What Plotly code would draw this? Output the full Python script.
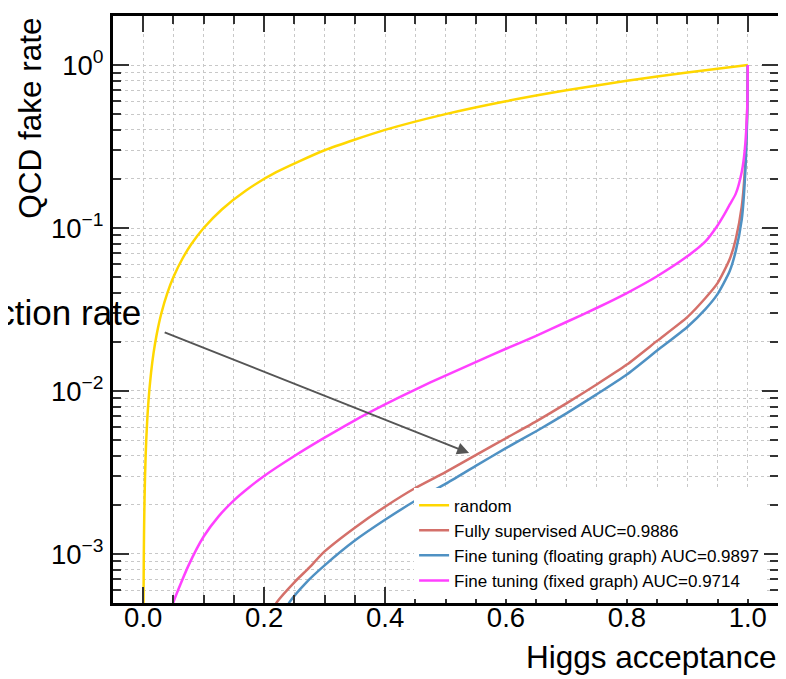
import plotly.graph_objects as go
import math

# ---------------- data ----------------
rand_x = [0.0004, 0.0005, 0.0007, 0.001, 0.0013, 0.0017, 0.0022, 0.003, 0.004, 0.005,
          0.0065, 0.008, 0.01, 0.013, 0.017, 0.022, 0.03, 0.04, 0.05, 0.065, 0.08, 0.1,
          0.13, 0.17, 0.22, 0.3, 0.4, 0.5, 0.6, 0.7, 0.8, 0.9, 1.0]
rand_y = [0.0004, 0.0005, 0.0007, 0.001, 0.0013, 0.0017, 0.0022, 0.003, 0.004, 0.005,
          0.0065, 0.008, 0.01, 0.013, 0.017, 0.022, 0.03, 0.04, 0.05, 0.065, 0.08, 0.1,
          0.13, 0.17, 0.22, 0.3, 0.4, 0.5, 0.6, 0.7, 0.8, 0.9, 1.0]

full_x = [0.21, 0.221, 0.25, 0.275, 0.3, 0.35, 0.4, 0.45, 0.5, 0.55, 0.6, 0.65, 0.7,
          0.75, 0.8, 0.85, 0.9, 0.93, 0.95, 0.97, 0.98, 0.99, 0.995, 0.999, 1.0]
full_y = [0.000428, 0.000506, 0.00067, 0.000827, 0.001036, 0.00145, 0.00195, 0.00254,
          0.00318, 0.00404, 0.00513, 0.00651, 0.00839, 0.01096, 0.01452, 0.0203, 0.0284,
          0.0372, 0.0459, 0.0643, 0.0851, 0.135, 0.221, 0.513, 1.0]

float_x = [0.232, 0.242, 0.27, 0.3, 0.35, 0.4, 0.45, 0.5, 0.55, 0.6, 0.65, 0.7, 0.75,
           0.8, 0.85, 0.9, 0.93, 0.95, 0.97, 0.98, 0.99, 0.995, 0.999, 1.0]
float_y = [0.000428, 0.000506, 0.00067, 0.000851, 0.001208, 0.00162, 0.00212, 0.00269,
           0.00347, 0.00446, 0.00566, 0.00729, 0.00953, 0.01262, 0.0177, 0.0247, 0.0318,
           0.0393, 0.0543, 0.0719, 0.1127, 0.192, 0.479, 1.0]

fixed_x = [0.045, 0.05, 0.075, 0.1, 0.125, 0.15, 0.175, 0.2, 0.25, 0.3, 0.35, 0.4, 0.45,
           0.5, 0.55, 0.6, 0.65, 0.7, 0.75, 0.8, 0.85, 0.9, 0.93, 0.95, 0.96, 0.97, 0.98,
           0.99, 0.995, 0.999, 1.0]
fixed_y = [0.00042, 0.000506, 0.000851, 0.001279, 0.001706, 0.002133, 0.00256, 0.00301,
           0.00399, 0.00517, 0.00661, 0.00827, 0.01021, 0.01244, 0.01503, 0.01816, 0.0218,
           0.0265, 0.0323, 0.0399, 0.0506, 0.067, 0.0827, 0.1036, 0.119, 0.139, 0.162,
           0.221, 0.301, 0.535, 1.0]

names = ["random",
         "Fully supervised AUC=0.9886",
         "Fine tuning (floating graph) AUC=0.9897",
         "Fine tuning (fixed graph) AUC=0.9714"]
colors = ["#ffd700", "#d4706a", "#4f91c3", "#ff40ff"]

x_ticks = [0.0, 0.2, 0.4, 0.6, 0.8, 1.0]
x_ticktext = ["0.0", "0.2", "0.4", "0.6", "0.8", "1.0"]
y_ticks = [1e-3, 1e-2, 1e-1, 1.0]
y_ticktext = ["10<sup>−3</sup>", "10<sup>−2</sup>", "10<sup>−1</sup>", "10<sup>0</sup>"]
y_minor = [m * 10.0 ** e for e in (-4, -3, -2, -1, 0) for m in range(2, 10)]

# ---------------- figure ----------------
W, H = 778, 671          # page shows figure offset by 8 px
L, R, T, B = 105, 6, 5, 76
pw, ph = W - L - R, H - T - B
OFF = 8

def px_x(p):             # page pixel -> paper x
    return (p - OFF - L) / pw

def px_y(p):             # page pixel -> paper y
    return (H - B - (p - OFF)) / ph

fig = go.Figure()
series = [(rand_x, rand_y), (full_x, full_y), (float_x, float_y), (fixed_x, fixed_y)]
for (xs, ys), nm, c in zip(series, names, colors):
    fig.add_trace(go.Scatter(x=xs, y=ys, mode="lines", name=nm,
                             line=dict(color=c, width=2.5, shape="spline", smoothing=0.6)))

FONT = "Liberation Sans, Arial, Helvetica, sans-serif"
tickfont = dict(family=FONT, size=27.5, color="black")
gridstyle = dict(showgrid=True, gridcolor="#c8c8c8", griddash="dot", gridwidth=1)

fig.update_layout(
    width=W, height=H,
    margin=dict(l=L, r=R, t=T, b=B),
    paper_bgcolor="white",
    plot_bgcolor="white",
    showlegend=True,
    legend=dict(x=px_x(415), y=px_y(487), xanchor="left", yanchor="top",
                bgcolor="white", borderwidth=0,
                font=dict(family=FONT, size=17, color="black"),
                itemwidth=30, tracegroupgap=0),
    font=dict(family=FONT, color="black"),
)

fig.update_xaxes(
    range=[-0.05, 1.05], tickmode="array", tickvals=x_ticks, ticktext=x_ticktext,
    ticks="inside", ticklen=16, tickwidth=1.5, tickcolor="#333333",
    showline=True, linecolor="black", linewidth=3, mirror="allticks",
    zeroline=False, tickfont=tickfont, ticklabelstandoff=-12, **gridstyle,
    minor=dict(tickmode="linear", tick0=0, dtick=0.05, ticks="inside", ticklen=8,
               tickwidth=1.5, tickcolor="#333333", **gridstyle),
)
fig.update_yaxes(
    type="log", range=[math.log10(5e-4), math.log10(2)],
    tickmode="array", tickvals=y_ticks, ticktext=y_ticktext,
    ticks="inside", ticklen=16, tickwidth=1.5, tickcolor="#333333",
    showline=True, linecolor="black", linewidth=3, mirror="allticks",
    zeroline=False, tickfont=tickfont, ticklabelstandoff=1, **gridstyle,
    minor=dict(tickmode="array", tickvals=y_minor, ticks="inside", ticklen=8,
               tickwidth=1.5, tickcolor="#333333", **gridstyle),
)

# axis titles
fig.add_annotation(text="Higgs acceptance", xref="paper", yref="paper",
                   x=1.0, y=px_y(657), xanchor="right", yanchor="middle",
                   showarrow=False, font=dict(family=FONT, size=31.5, color="black"))
fig.add_annotation(text="QCD fake rate", xref="paper", yref="paper",
                   x=px_x(29), y=1.0, xanchor="center", yanchor="top", textangle=-90,
                   showarrow=False, font=dict(family=FONT, size=31.5, color="black"))

# partially visible label and arrow
fig.add_annotation(text="rejection rate", xref="x", yref="y",
                   x=0.0, y=math.log10(0.0301), xanchor="right", yanchor="middle",
                   showarrow=False, font=dict(family=FONT, size=35, color="black"))
fig.add_annotation(x=0.539, y=math.log10(0.00416), ax=0.033, ay=math.log10(0.0231),
                   xref="x", yref="y", axref="x", ayref="y", text="",
                   showarrow=True, arrowhead=2, arrowsize=1.2, arrowwidth=2,
                   arrowcolor="#555555")

fig.write_html("out.html")
